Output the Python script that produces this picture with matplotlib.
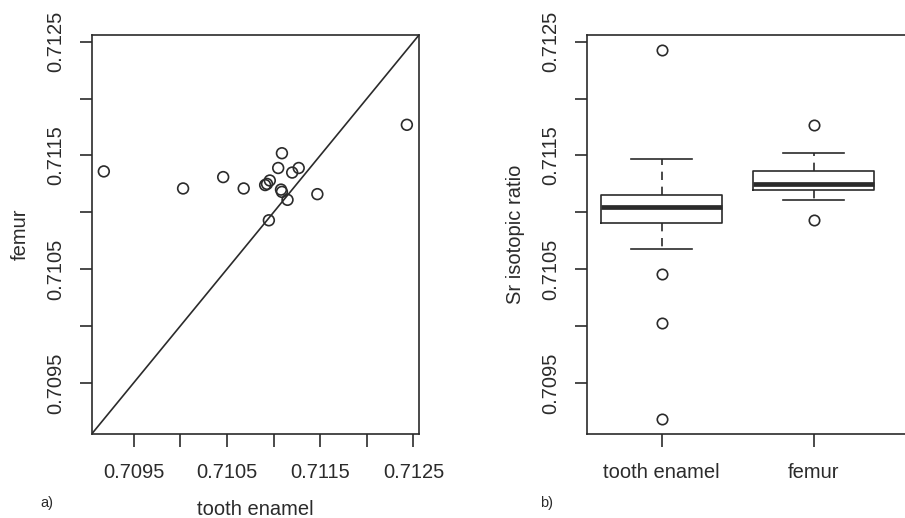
import numpy as np
import matplotlib.pyplot as plt
from matplotlib.ticker import FixedLocator, FixedFormatter

plt.rcParams['font.family'] = ['Liberation Sans', 'DejaVu Sans']

# Sr isotopic ratios, paired per individual (tooth enamel, femur)
tooth_enamel = [0.70918, 0.71003, 0.71046, 0.71068, 0.71091, 0.71093, 0.71096,
                0.71105, 0.71109, 0.71108, 0.71109, 0.71115, 0.71120, 0.71127,
                0.71147, 0.71095, 0.71243]
femur = [0.71136, 0.71121, 0.71131, 0.71121, 0.71124, 0.71125, 0.71128,
         0.71139, 0.71152, 0.71120, 0.71118, 0.71111, 0.71135, 0.71139,
         0.71116, 0.71093, 0.71177]

group_names = ['tooth enamel', 'femur']
tick_vals = [0.7095, 0.7100, 0.7105, 0.7110, 0.7115, 0.7120, 0.7125]
tick_labels = ['0.7095', '', '0.7105', '', '0.7115', '', '0.7125']

ink = '#2b2b2b'
plt.rcParams['text.color'] = ink
plt.rcParams['axes.edgecolor'] = ink
plt.rcParams['xtick.color'] = ink
plt.rcParams['ytick.color'] = ink
plt.rcParams['axes.labelcolor'] = ink

all_vals = np.concatenate([tooth_enamel, femur])
lo, hi = all_vals.min(), all_vals.max()
pad = 0.04 * (hi - lo)
lims = (lo - pad, hi + pad)

W, H = 905, 518
fig = plt.figure(figsize=(W / 100, H / 100), dpi=100)

def frac(l, r, t, b):
    return [l / W, (H - b) / H, (r - l) / W, (b - t) / H]

fs = 14.5

# a) scatter with 1:1 line
ax1 = fig.add_axes(frac(91.7, 419, 35, 434))
ax1.scatter(tooth_enamel, femur, s=60, facecolors='none', edgecolors=ink, linewidths=1.2)
ax1.plot(lims, lims, color=ink, lw=1.2)
ax1.set_xlim(lims)
ax1.set_ylim(lims)
for axis in (ax1.xaxis, ax1.yaxis):
    axis.set_major_locator(FixedLocator(tick_vals))
    axis.set_major_formatter(FixedFormatter(tick_labels))
ax1.set_xlabel('tooth enamel', fontsize=fs, labelpad=13)
ax1.set_ylabel('femur', fontsize=fs, labelpad=12)

# b) boxplot
ax2 = fig.add_axes(frac(586.7, 905, 35, 434))
line = dict(color=ink, linewidth=1.2)
ax2.boxplot([tooth_enamel, femur], positions=[1, 2], widths=0.8, whis=1.5,
            boxprops=line, capprops=line,
            whiskerprops=dict(color=ink, linewidth=1.2, linestyle=(0, (5, 4))),
            medianprops=dict(color=ink, linewidth=3.4, solid_capstyle='butt'),
            flierprops=dict(marker='o', markerfacecolor='none', markeredgecolor=ink,
                            markersize=7.5, markeredgewidth=1.2))
ax2.set_xlim(0.505, 2.603)
ax2.set_ylim(lims)
ax2.set_xticks([1, 2])
ax2.set_xticklabels(group_names)
ax2.yaxis.set_major_locator(FixedLocator(tick_vals))
ax2.yaxis.set_major_formatter(FixedFormatter(tick_labels))
ax2.set_ylabel('Sr isotopic ratio', fontsize=fs, labelpad=12)
ax2.spines['right'].set_visible(False)

for ax in (ax1, ax2):
    for sp in ax.spines.values():
        sp.set_linewidth(1.2)
    ax.tick_params(length=9, width=1.2, labelsize=fs)
    ax.tick_params(axis='x', pad=12)
    ax.tick_params(axis='y', labelrotation=90, pad=10)
    for lab in ax.get_yticklabels():
        lab.set_va('center')

fig.text(46.7 / W, 1 - 503 / H, 'a)', fontsize=10.5, ha='center', va='center')
fig.text(546.7 / W, 1 - 503 / H, 'b)', fontsize=10.5, ha='center', va='center')

fig.savefig('out.png', dpi=100)
